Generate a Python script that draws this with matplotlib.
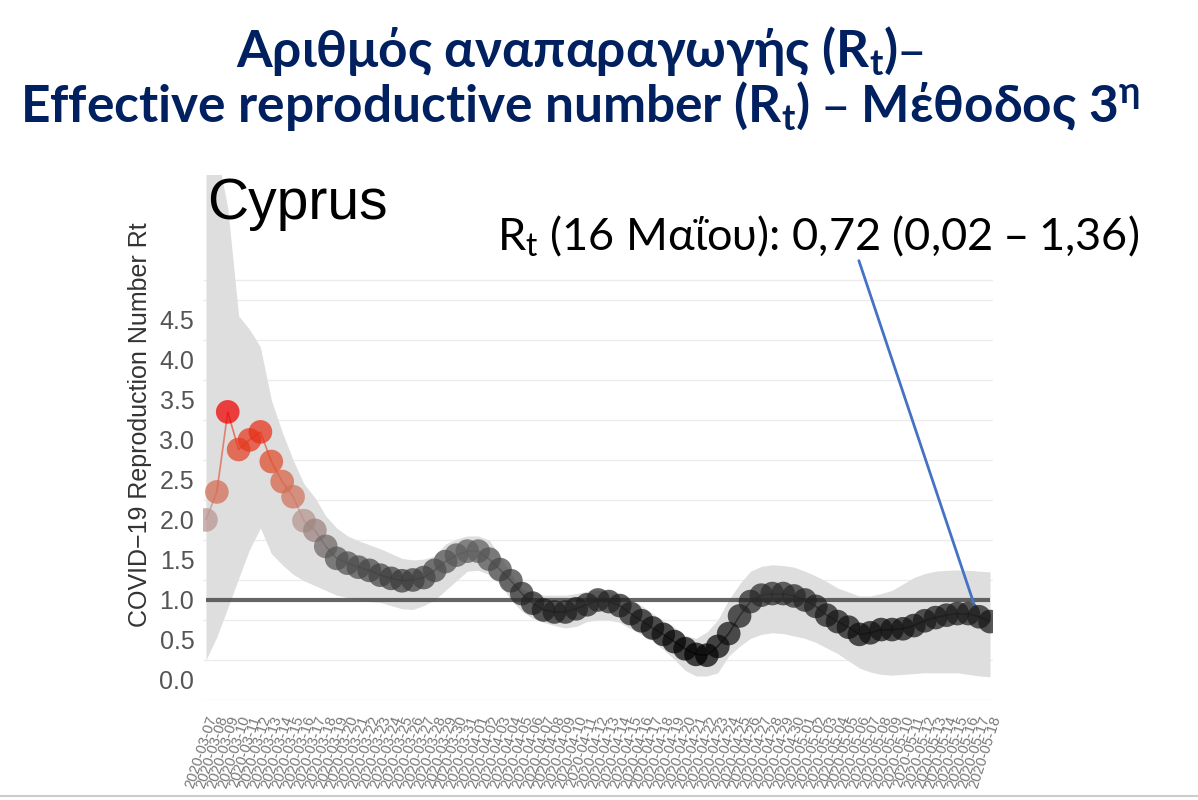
import matplotlib
matplotlib.use("Agg")
import matplotlib.pyplot as plt
import numpy as np
import pandas as pd
from matplotlib.colors import LinearSegmentedColormap, Normalize
from matplotlib.collections import LineCollection

# daily dates shown on the x axis
dates = pd.date_range("2020-03-07", "2020-05-18", freq="D")
date_labels = [d.strftime("%Y-%m-%d") for d in dates]

# estimated Rt
rt_mean = [2.0, 2.35, 3.35, 2.88, 3.0, 3.1, 2.73, 2.48, 2.29, 1.99,
           1.87, 1.67, 1.52, 1.46, 1.41, 1.37, 1.31, 1.27, 1.24, 1.25,
           1.28, 1.37, 1.48, 1.56, 1.61, 1.61, 1.51, 1.38, 1.24, 1.08,
           0.96, 0.875, 0.85, 0.85, 0.89, 0.94, 1.0, 0.98, 0.93, 0.83,
           0.74, 0.65, 0.57, 0.48, 0.39, 0.32, 0.31, 0.42, 0.58, 0.8,
           0.98, 1.06, 1.08, 1.08, 1.05, 1.0, 0.92, 0.81, 0.73, 0.66,
           0.57, 0.59, 0.63, 0.63, 0.64, 0.68, 0.74, 0.78, 0.81, 0.83,
           0.83, 0.79, 0.73]

# credible interval band
rt_upper = [7.0, 6.6, 5.9, 4.55, 4.38, 4.16, 3.5, 3.1, 2.75, 2.45,
            2.28, 2.05, 1.9, 1.8, 1.74, 1.69, 1.64, 1.58, 1.52, 1.5,
            1.51, 1.55, 1.7, 1.76, 1.8, 1.8, 1.75, 1.55, 1.33, 1.14,
            1.09, 1.06, 1.06, 1.06, 1.08, 1.11, 1.12, 1.1, 1.07, 1.01,
            0.93, 0.83, 0.74, 0.66, 0.56, 0.52, 0.6, 0.75, 1.0, 1.2,
            1.36, 1.42, 1.44, 1.43, 1.41, 1.36, 1.3, 1.23, 1.15, 1.1,
            1.05, 1.05, 1.08, 1.12, 1.2, 1.28, 1.33, 1.36, 1.37, 1.375,
            1.37, 1.36, 1.35]
rt_lower = [0.25, 0.54, 0.9, 1.27, 1.63, 1.9, 1.58, 1.44, 1.32, 1.24,
            1.18, 1.12, 1.06, 1.03, 1.0, 0.98, 0.97, 0.93, 0.89, 0.88,
            0.93, 1.0, 1.12, 1.24, 1.36, 1.37, 1.32, 1.2, 1.0, 0.86,
            0.77, 0.72, 0.68, 0.65, 0.67, 0.73, 0.75, 0.75, 0.72, 0.64,
            0.57, 0.49, 0.38, 0.26, 0.12, 0.05, 0.05, 0.09, 0.3, 0.42,
            0.52, 0.57, 0.59, 0.58, 0.55, 0.52, 0.47, 0.4, 0.33, 0.24,
            0.15, 0.1, 0.07, 0.06, 0.07, 0.08, 0.09, 0.09, 0.09, 0.09,
            0.07, 0.05, 0.04]

y_ticks = [0.0, 0.5, 1.0, 1.5, 2.0, 2.5, 3.0, 3.5, 4.0, 4.5]
grid_lines = [-0.25, 0.25, 0.75, 1.25, 1.75, 2.25, 2.75, 3.25, 3.75, 4.25, 4.75, 5.0]

plt.rcParams["font.family"] = ["Liberation Sans", "DejaVu Sans"]
plt.rcParams["mathtext.fontset"] = "dejavusans"

W, H = 1198, 800
fig = plt.figure(figsize=(W / 100, H / 100), dpi=100)
ax = fig.add_axes([202.7 / W, 1 - 700 / H, 790.6 / W, 525 / H])

x = np.arange(len(dates))

# colour goes from black (low) through grey to red (high)
cmap = LinearSegmentedColormap.from_list("rt", [
    (0.0, "#000000"),
    (0.23, "#252525"),
    (0.42, "#5a5a5a"),
    (0.557, "#b89590"),
    (0.67, "#d46c52"),
    (0.8, "#e04a2a"),
    (0.92, "#e83018"),
    (1.0, "#f00000"),
])
norm = Normalize(vmin=0.3, vmax=3.35)

ax.hlines(grid_lines, -0.3, 72.3, color="#ececec", lw=1, zorder=0)
ax.fill_between(x, rt_lower, rt_upper, color="#dedede", lw=0, zorder=1)
ax.hlines(1.0, 0, 72, color="#4a4a4a", lw=3, alpha=0.85, zorder=2)

# thin line joining the dots
pts = np.column_stack([x, rt_mean])
segs = np.stack([pts[:-1], pts[1:]], axis=1)
mid = (np.array(rt_mean[:-1]) + np.array(rt_mean[1:])) / 2
lc = LineCollection(segs, colors=cmap(norm(mid)), lw=1.2, alpha=0.6, zorder=3)
ax.add_collection(lc)

ax.scatter(x, rt_mean, s=290, c=rt_mean, cmap=cmap, norm=norm,
           alpha=0.72, edgecolors="none", zorder=4)

ax.set_xlim(-0.3, 72.3)
ax.set_ylim(-0.25, 6.31)

ax.set_yticks(y_ticks)
ax.set_yticklabels([f"{v:.1f}" for v in y_ticks])
ax.tick_params(axis="y", length=0, labelsize=18, labelcolor="#555555", pad=6)
ax.set_xticks(x)
ax.set_xticklabels(date_labels, rotation=72, ha="right", rotation_mode="anchor",
                   fontsize=10.5, color="#777777")
ax.tick_params(axis="x", length=0, pad=10)
for s in ax.spines.values():
    s.set_visible(False)

ax.set_ylabel("COVID\u221219 Reproduction Number Rt", fontsize=18, color="#333333")
ax.yaxis.set_label_coords(-0.064, 0.524)

fig.text(207 / W, 1 - 219 / H, "Cyprus", fontsize=41, va="baseline", ha="left", color="black")

# slide annotation
fig.text(497 / W, 1 - 250 / H, r"R$\mathregular{_t}$ (16 Μαΐου): 0,72 (0,02 – 1,36)",
         fontsize=32.5, family="Lato", va="baseline", ha="left", color="black")
ax.annotate("", xy=(70.6, 0.92), xycoords="data",
            xytext=(858 / W, 1 - 258 / H), textcoords="figure fraction",
            arrowprops=dict(arrowstyle="-", color="#4472C4", lw=2), zorder=6)

# slide title
fig.text(580 / W, 1 - 67 / H, r"Αριθμός αναπαραγωγής (R$\mathregular{_t}$)–",
         fontsize=37, fontweight="bold", family="Lato", color="#002060",
         ha="center", va="baseline")
fig.text(580 / W, 1 - 122 / H,
         r"Effective reproductive number (R$\mathregular{_t}$) – Μέθοδος 3$\mathregular{^η}$",
         fontsize=37, fontweight="bold", family="Lato", color="#002060",
         ha="center", va="baseline")

fig.add_artist(plt.Line2D([0, 1], [1 - 796 / H, 1 - 796 / H], color="#cccccc", lw=1.5))

fig.savefig("out.png", dpi=100)
